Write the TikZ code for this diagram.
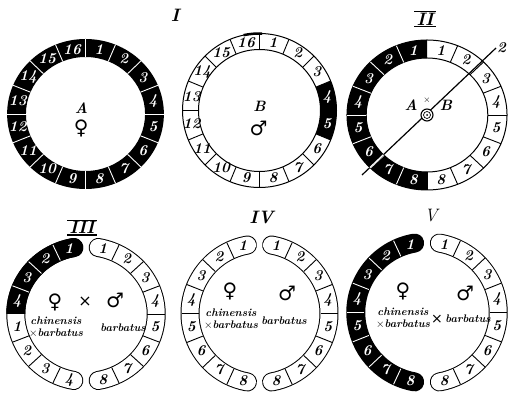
\documentclass[tikz,border=0pt]{standalone}
\usepackage{fontspec}
\usepackage{tikz}
\usetikzlibrary{positioning}
\newfontfamily\sexfont{DejaVu Sans}
\tikzset{
    every picture/.style={line join=round},
    ringnum/.style={font=\fontsize{15}{15}\selectfont\bfseries\itshape,inner sep=0pt},
    ringnumw/.style={ringnum,text=white},
    roman/.style={font=\fontsize{18}{18}\selectfont\bfseries\itshape,inner sep=1pt},
    sexsym/.style={font=\fontsize{20}{20}\sexfont,inner sep=0pt},
    centrelbl/.style={font=\fontsize{15}{15}\selectfont\bfseries\itshape,inner sep=0pt},
    species/.style={font=\fontsize{11}{12}\selectfont\bfseries\itshape,inner sep=0pt,align=center},
    rim/.style={line width=1pt},
    divb/.style={line width=0.9pt},
    divw/.style={white,line width=0.9pt},
    armout/.style={line width=19pt,line cap=round},
    armin/.style={white,line width=17pt,line cap=round}
}

\begin{document}
\begin{tikzpicture}[x=1pt,y=1pt]
    \useasboundingbox (0,0) rectangle (511,393);

    \node[roman] (t1) at (175,378) {I};
    \begin{scope}[shift={(85.5,279)},xscale=1.045]
        \fill[even odd rule] (0,0) circle (75) (0,0) circle (57);
        \foreach \k in {1,...,16} {
            \draw[divw] ({90-22.5*\k}:57) -- ({90-22.5*\k}:75);
            \node[ringnumw] (a\k) at ({101.25-22.5*\k}:66) {\k};
        }
        \node[centrelbl] (alabel) at (-4,6) {A};
        \node[sexsym] (afem) at (-4,-14) {♀};
    \end{scope}

    \begin{scope}[shift={(259.5,282.5)}]
        \fill (22.5:77) arc (22.5:-22.5:77) -- (-22.5:61) arc (-22.5:22.5:61) -- cycle;
        \draw[rim] (0,0) circle (77) (0,0) circle (61);
        \draw[line width=2.5pt] (102:77) arc (102:88:77);
        \foreach \k in {1,...,16}
            \draw[divb] ({90-22.5*\k}:61) -- ({90-22.5*\k}:77);
        \foreach \k in {1,2,3,6,7,8,9,10,11,12,13,14,15,16}
            \node[ringnum] (b\k) at ({101.25-22.5*\k}:69) {\k};
        \foreach \k in {4,5}
            \node[ringnumw] (b\k) at ({101.25-22.5*\k}:69) {\k};
        \node[centrelbl] (blabel) at (0,4) {B};
        \node[sexsym] (bmale) at (-1,-18) {♂};
    \end{scope}

    \node[roman] (t2) at (425,374) {II};
    \draw[line width=1.2pt] ([xshift=-1pt]t2.north west) -- ([xshift=1pt]t2.north east);
    \draw[line width=1.2pt] ([xshift=-1pt]t2.south west) -- ([xshift=1pt]t2.south east);
    \begin{scope}[shift={(427,278)},xscale=1.067]
        \fill (90:75) arc (90:270:75) -- (270:57) arc (270:90:57) -- cycle;
        \draw[rim] (0,0) circle (75) (0,0) circle (57);
        \foreach \k in {1,...,8} {
            \draw[divb] ({90-22.5*\k}:57) -- ({90-22.5*\k}:75);
            \node[ringnum] (r\k) at ({101.25-22.5*\k}:66) {\k};
            \node[ringnumw] (l\k) at ({78.75+22.5*\k}:66) {\k};
        }
        \foreach \k in {1,...,7}
            \draw[divw] ({90+22.5*\k}:57) -- ({90+22.5*\k}:75);
    \end{scope}
    \coordinate (cut1) at (362,218);
    \coordinate (cut2) at (496,345);
    \draw[line width=1.2pt] (cut1) -- (cut2);
    \begin{scope}
        \clip[shift={(427,278)},xscale=1.067] (90:75) arc (90:270:75) -- (270:57) arc (270:90:57) -- cycle;
        \draw[white,line width=1.2pt] (cut1) -- (cut2);
    \end{scope}
    \node[ringnum,right=1pt of cut2] (cutlbl) {2};
    \node[circle,draw,fill=white,line width=1.1pt,minimum size=12pt,inner sep=0pt] (target) at (427,278) {};
    \draw[line width=0.7pt] (target.center) circle (3.5);
    \fill (target.center) circle (1);
    \node[centrelbl] (ablabel) at (411,288) {A};
    \node[centrelbl] (bblabel) at (446,288) {B};
    \node[font=\fontsize{9}{9}\selectfont,inner sep=0pt] (abx) at (427,293) {$\times$};

    \node[roman] (t3) at (82,165.5) {III};
    \draw[line width=0.8pt] ([xshift=-1pt]t3.north west) -- ([xshift=1pt]t3.north east);
    \draw[line width=1.6pt] ([xshift=-1pt]t3.south west) -- ([xshift=1pt]t3.south east);
    \begin{scope}[shift={(86,79)},xscale=1.04]
        \draw[armout] (100:67.5) arc (100:260:67.5);
        \draw[armin] (100:67.5) arc (100:260:67.5);
        \draw[armout] (80:67.5) arc (80:-80:67.5);
        \draw[armin] (80:67.5) arc (80:-80:67.5);
        \begin{scope}
            \clip (0,0) -- (90:95) arc (90:180:95) -- cycle;
            \draw[armout] (100:67.5) arc (100:260:67.5);
        \end{scope}
        \foreach \k in {1,...,7}
            \draw[divb] ({87-21.75*\k}:59) -- ({87-21.75*\k}:76);
        \foreach \k in {1,2,3}
            \draw[divw] ({93+21.75*\k}:59) -- ({93+21.75*\k}:76);
        \foreach \k in {5,6,7}
            \draw[divb] ({93+21.75*\k}:59) -- ({93+21.75*\k}:76);
        \foreach \k in {1,...,8}
            \node[ringnum] (r3\k) at ({97.875-21.75*\k}:67.5) {\k};
        \foreach \k in {1,...,4} {
            \node[ringnumw] (l3a\k) at ({82.125+21.75*\k}:67.5) {\k};
            \node[ringnum] (l3b\k) at ({169.125+21.75*\k}:67.5) {\k};
        }
    \end{scope}
    \node[sexsym] (fem3) at (55,91) {♀};
    \node[sexsym,font=\fontsize{16}{16}\sexfont] (x3) at (85,91) {×};
    \node[sexsym] (male3) at (115,93) {♂};
    \node[species] (sp3) at (56,66) {chinensis\\$\times$barbatus};
    \node[species] (bar3) at (123,65) {barbatus};

    \node[roman] (t4) at (261.5,176) {IV};
    \begin{scope}[shift={(259.5,79.5)}]
        \draw[armout] (100:69.5) arc (100:260:69.5);
        \draw[armin] (100:69.5) arc (100:260:69.5);
        \draw[armout] (80:69.5) arc (80:-80:69.5);
        \draw[armin] (80:69.5) arc (80:-80:69.5);
        \foreach \k in {1,...,7} {
            \draw[divb] ({87-21.75*\k}:61) -- ({87-21.75*\k}:78);
            \draw[divb] ({93+21.75*\k}:61) -- ({93+21.75*\k}:78);
        }
        \foreach \k in {1,...,8} {
            \node[ringnum] (r4\k) at ({97.875-21.75*\k}:69.5) {\k};
            \node[ringnum] (l4\k) at ({82.125+21.75*\k}:69.5) {\k};
        }
    \end{scope}
    \node[sexsym] (fem4) at (230,102) {♀};
    \node[sexsym] (male4) at (287,100) {♂};
    \node[species] (sp4) at (231,74) {chinensis\\$\times$barbatus};
    \node[species] (bar4) at (284,72) {barbatus};

    \node[roman,font=\fontsize{18}{18}\selectfont\itshape] (t5) at (431,177) {V};
    \begin{scope}[shift={(427,80.5)},xscale=1.01]
        \draw[armout] (100:70.5) arc (100:260:70.5);
        \draw[armout] (80:70.5) arc (80:-80:70.5);
        \draw[armin] (80:70.5) arc (80:-80:70.5);
        \foreach \k in {1,...,7} {
            \draw[divb] ({87-21.75*\k}:62) -- ({87-21.75*\k}:79);
            \draw[divw] ({93+21.75*\k}:62) -- ({93+21.75*\k}:79);
        }
        \foreach \k in {1,...,8} {
            \node[ringnum] (r5\k) at ({97.875-21.75*\k}:70.5) {\k};
            \node[ringnumw] (l5\k) at ({82.125+21.75*\k}:70.5) {\k};
        }
    \end{scope}
    \node[sexsym,font=\fontsize{20}{20}\sexfont\bfseries] (fem5) at (403,102) {♀};
    \node[sexsym] (male5) at (465,100) {♂};
    \node[species] (sp5) at (403,75) {chinensis\\$\times$barbatus};
    \node[sexsym,font=\fontsize{14}{14}\sexfont] (x5) at (437,74) {×};
    \node[species] (bar5) at (468,74) {barbatus};
\end{tikzpicture}
\end{document}
